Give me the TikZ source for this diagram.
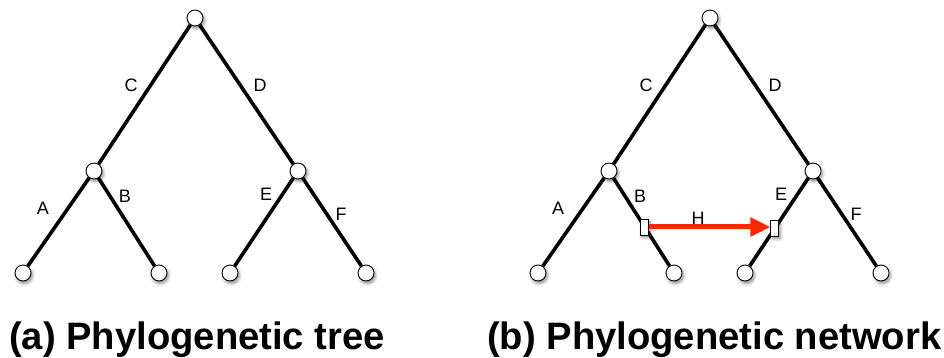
\documentclass[tikz,border=0pt]{standalone}
\usepackage{fontspec}
\setmainfont{Liberation Sans}
\usetikzlibrary{arrows.meta,shadows.blur,calc}
\definecolor{hred}{RGB}{255,38,0}
\begin{document}
\begin{tikzpicture}[x=1pt,y=-1pt,
  shd/.style={blur shadow={shadow xshift=1.5pt,shadow yshift=-2.5pt,shadow blur radius=3pt,shadow opacity=45}},
  vtx/.style={circle,draw=black,line width=0.9pt,fill=white,minimum size=16pt,inner sep=0pt,shd},
  hbox/.style={rectangle,draw=black,line width=0.9pt,fill=white,minimum width=8pt,minimum height=16pt,inner sep=0pt,shd},
  br/.style={line width=3.6pt,black},
  lbl/.style={font=\fontsize{18}{18}\selectfont,inner sep=0pt},
  captxt/.style={font=\fontsize{38.2}{38.2}\selectfont\bfseries,anchor=base west,inner sep=0pt}]
\useasboundingbox (0,0) rectangle (944,358);
% ---- tree (a)
\node[vtx] (aR) at (195,18) {};
\node[vtx] (aL) at (94,171) {};
\node[vtx] (aRR) at (298,171) {};
\node[vtx] (a1) at (23,273) {};
\node[vtx] (a2) at (159,273) {};
\node[vtx] (a3) at (230,273) {};
\node[vtx] (a4) at (366,273) {};
\draw[br] (aR) -- (aL);
\draw[br] (aR) -- (aRR);
\draw[br] (aL) -- (a1);
\draw[br] (aL) -- (a2);
\draw[br] (aRR) -- (a3);
\draw[br] (aRR) -- (a4);
\node[lbl] (aC) at (131,85) {C};
\node[lbl] (aD) at (260,85) {D};
\node[lbl] (aA) at (43,208) {A};
\node[lbl] (aB) at (125,196) {B};
\node[lbl] (aE) at (266,194) {E};
\node[lbl] (aF) at (341,214) {F};
% ---- network (b)
\node[vtx] (bR) at (710,18) {};
\node[vtx] (bL) at (609,171) {};
\node[vtx] (bRR) at (813,171) {};
\node[vtx] (b1) at (538,273) {};
\node[vtx] (b2) at (674,273) {};
\node[vtx] (b3) at (745,273) {};
\node[vtx] (b4) at (881,273) {};
\draw[br] (bR) -- (bL);
\draw[br] (bR) -- (bRR);
\draw[br] (bL) -- (b1);
\draw[br] (bL) -- (b2);
\draw[br] (bRR) -- (b3);
\draw[br] (bRR) -- (b4);
\node[hbox] (h1) at ($(bL.center)!0.549!(b2.center)$) {};
\node[hbox] (h2) at ($(bRR.center)!0.56!(b3.center)$) {};
\draw[hred,line width=5pt,-{Triangle[length=20pt,width=18pt]}] (h1.east) -- (h1.east -| h2.west);
\node[lbl] (bC) at (646,85) {C};
\node[lbl] (bD) at (775,85) {D};
\node[lbl] (bA) at (558,208) {A};
\node[lbl] (bB) at (640,196) {B};
\node[lbl] (bE) at (781,194) {E};
\node[lbl] (bF) at (856,214) {F};
\node[lbl] (bH) at (698,218) {H};
% ---- captions
\node[captxt] (capa) at (9,349) {(a) Phylogenetic tree};
\node[captxt] (capb) at (487,349) {(b) Phylogenetic network};
\end{tikzpicture}
\end{document}
